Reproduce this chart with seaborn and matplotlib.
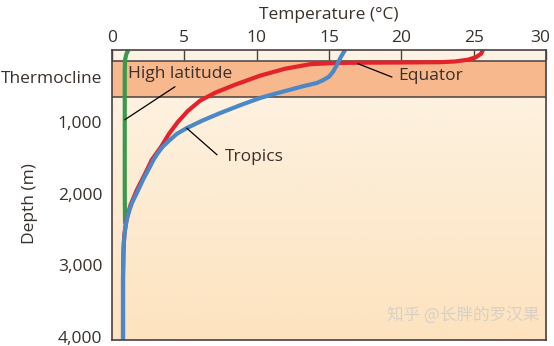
import numpy as np
import matplotlib
matplotlib.use("Agg")
import matplotlib.pyplot as plt
import matplotlib.transforms as mtransforms
import seaborn as sns
import pandas as pd
from matplotlib.ticker import FixedLocator

# Temperature profiles (depth in m, temperature in °C)
high_lat_depth = [0, 52, 135, 300, 600, 1000, 1500, 2000, 2420]
high_lat_temp = [1.13, 1.0, 0.9, 0.88, 0.88, 0.88, 0.88, 0.88, 0.9]

equator_depth = [0, 52, 100, 135, 160, 170, 174, 177, 181, 198, 261, 358, 484, 596,
                 707, 847, 1000, 1167, 1349, 1530, 1739, 1948, 2158, 2367, 2576,
                 2757, 2925, 3204, 4040]
equator_temp = [25.64, 25.51, 25.16, 24.61, 23.71, 22.67, 19.91, 17.14, 15.41, 13.69,
                11.96, 10.23, 8.50, 7.12, 6.08, 5.25, 4.56, 3.94, 3.39, 2.75, 2.25,
                1.72, 1.28, 1.0, 0.85, 0.8, 0.78, 0.76, 0.76]

tropics_depth = [0, 93, 205, 302, 372, 421, 460, 505, 554, 609, 669, 770, 879, 979,
                 1088, 1167, 1251, 1342, 1432, 1530, 1623, 1809, 1994, 2130, 2273,
                 2450, 2645, 2854, 3133, 4040]
tropics_temp = [16.11, 15.83, 15.55, 15.28, 15.0, 14.58, 14.15, 13.2, 12.3, 11.27,
                10.23, 8.85, 7.47, 6.29, 5.16, 4.49, 4.01, 3.53, 3.18, 2.87, 2.63,
                2.14, 1.71, 1.38, 1.13, 0.93, 0.83, 0.78, 0.76, 0.76]

thermocline = (150, 650)
x_ticks = [0, 5, 10, 15, 20, 25, 30]
depth_ticks = [1000, 2000, 3000, 4000]
depth_tick_labels = ["1,000", "2,000", "3,000", "4,000"]

sns.set_theme(style="white")
plt.rcParams["font.family"] = ["Open Sans", "DejaVu Sans"]

text_color = "#3a302a"
frame_color = "#4a4040"
fs = 12.5

fig = plt.figure(figsize=(5.54, 3.46), dpi=100)
ax = fig.add_axes([0.2022, 0.0173, 0.7834, 0.8382])

xlim = (0, 30)
ylim = (4040, 0)

# cream background with a soft vertical gradient
grad = np.linspace(0, 1, 256).reshape(-1, 1)
top_c = np.array(matplotlib.colors.to_rgb("#fdf4e6"))
bot_c = np.array(matplotlib.colors.to_rgb("#fde3bf"))
img = top_c[None, None, :] * (1 - grad[..., None]) + bot_c[None, None, :] * grad[..., None]
ax.imshow(img, extent=[xlim[0], xlim[1], ylim[0], ylim[1]], aspect="auto",
          origin="upper", zorder=0)

# thermocline band
ax.axhspan(thermocline[0], thermocline[1], color="#f6b88c", zorder=1, lw=0)
for d in thermocline:
    ax.axhline(d, color=frame_color, lw=1.1, zorder=1.5)

profiles = pd.concat([
    pd.DataFrame({"temp": high_lat_temp, "depth": high_lat_depth, "zone": "High latitude"}),
    pd.DataFrame({"temp": equator_temp, "depth": equator_depth, "zone": "Equator"}),
    pd.DataFrame({"temp": tropics_temp, "depth": tropics_depth, "zone": "Tropics"}),
])
palette = {"High latitude": "#3a9a4c", "Equator": "#e3222b", "Tropics": "#4a88c8"}
for zone in ["High latitude", "Equator", "Tropics"]:
    sub = profiles[profiles["zone"] == zone]
    sns.lineplot(data=sub, x="temp", y="depth", sort=False, estimator=None,
                 color=palette[zone], lw=3.0, ax=ax, zorder=3,
                 solid_capstyle="butt", solid_joinstyle="round")

ax.set_xlim(*xlim)
ax.set_ylim(*ylim)


def curve_temp(depths, temps, d):
    return float(np.interp(d, depths, temps))


# callout labels with leader lines
lead_kw = dict(color="black", lw=0.9, zorder=4)
d0 = 972
ax.plot([curve_temp(high_lat_depth, high_lat_temp, d0), 4.35], [d0, 512], **lead_kw)
ax.text(1.1, 330, "High latitude", fontsize=fs, color=text_color, ha="left", va="center", zorder=5)

d1 = 1088
ax.plot([curve_temp(tropics_depth, tropics_temp, d1), 7.26], [d1, 1460], **lead_kw)
ax.text(7.8, 1488, "Tropics", fontsize=fs, color=text_color, ha="left", va="center", zorder=5)

ax.plot([17.0, 19.35], [191, 377], **lead_kw)
ax.text(19.8, 358, "Equator", fontsize=fs, color=text_color, ha="left", va="center", zorder=5)

# axes styling: temperature on top, depth on the left
ax.xaxis.tick_top()
ax.xaxis.set_label_position("top")
ax.set_xticks(x_ticks)
ax.set_xticklabels([str(t) for t in x_ticks], fontsize=fs, color=text_color)
ax.tick_params(axis="x", direction="in", length=7, width=1.0, color=frame_color, pad=3)
ax.set_xlabel("Temperature (°C)", fontsize=fs, color=text_color, labelpad=8)
# nudge the last temperature label inward so it stays inside the figure
last = ax.get_xticklabels()[-1]
last.set_transform(last.get_transform() + mtransforms.ScaledTranslation(-6 / 100, 0, fig.dpi_scale_trans))

ax.yaxis.set_major_locator(FixedLocator([370] + depth_ticks))
ax.set_yticklabels(["Thermocline"] + depth_tick_labels, fontsize=fs, color=text_color)
ax.tick_params(axis="y", length=0, pad=7)
ax.set_ylabel("Depth (m)", fontsize=fs, color=text_color)
ax.yaxis.set_label_coords(-0.17, 0.47)

for s in ax.spines.values():
    s.set_visible(True)
    s.set_color(frame_color)
    s.set_linewidth(1.2)
    s.set_zorder(6)

# watermark
ax.text(0.985, 0.085, "知乎 @长胖的罗汉果", transform=ax.transAxes, ha="right", va="center",
        fontsize=12, color="#d8d0c6", family=["Noto Sans CJK SC", "DejaVu Sans"], zorder=5)

fig.savefig("out.png", dpi=100)
